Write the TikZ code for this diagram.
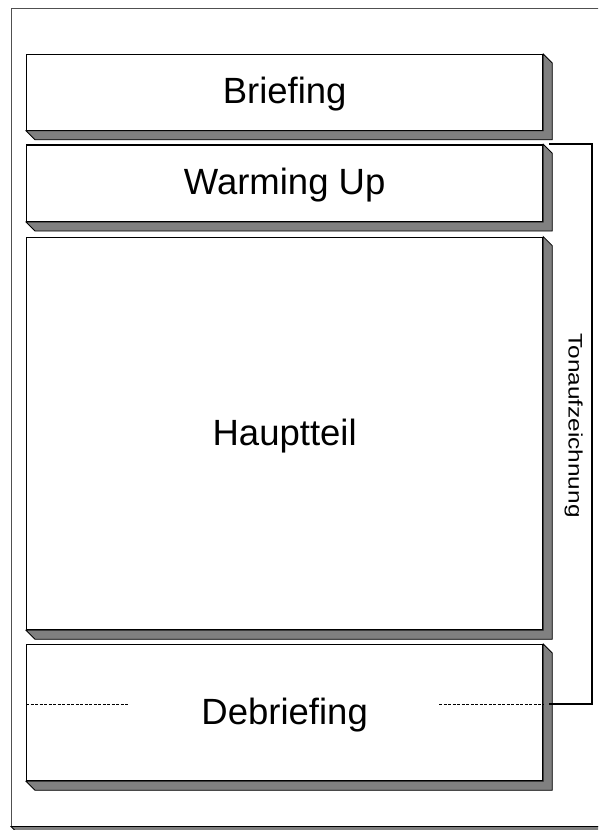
\documentclass[tikz,border=0pt]{standalone}
\usepackage{fontspec}
\setmainfont{Liberation Sans}
\definecolor{bevelgray}{HTML}{808080}
\definecolor{framegray}{HTML}{505050}
\newcommand\bevelbox[1]{%
  \filldraw[bevel] (#1.south west) -- ++(9,9) -- ([shift={(9,9)}]#1.south east)
    -- ([shift={(9,9)}]#1.north east) -- (#1.north east) -- (#1.south east) -- cycle;}
\begin{document}
\begin{tikzpicture}[x=1pt,y=-1pt,
  stage/.style={draw=black,line width=1.3pt,fill=white,rectangle,inner sep=0pt,
    minimum width=516pt,anchor=north west,text height=26pt,text depth=3pt,
    font=\fontsize{36.5}{40}\selectfont},
  bevel/.style={fill=bevelgray,draw=black,line width=0.8pt,line join=miter},
  bracket/.style={draw=black,line width=2pt,line join=miter},
  dashline/.style={draw=black,line width=0.6pt,dash pattern=on 3pt off 1.5pt},
  sidelabel/.style={rotate=-90,anchor=base,inner sep=0pt,font=\fontsize{19.5}{22}\selectfont}]
\useasboundingbox (0,0) rectangle (598,830);
\clip (0,0) rectangle (598,830);
% outer frame
\node[draw=framegray,line width=1pt,fill=white,rectangle,inner sep=0pt,anchor=north west,
  minimum width=609pt,minimum height=817.5pt] (frame) at (11,8) {};
\bevelbox{frame}
% stages
\node[stage,minimum height=75.5pt] (brief) at (26,54) {Briefing};
\bevelbox{brief}
\node[stage,minimum height=76.4pt] (warm) at (26,144.3) {Warming Up};
\bevelbox{warm}
\node[stage,minimum height=392.3pt] (haupt) at (26,236.7) {Hauptteil};
\bevelbox{haupt}
\node[stage,minimum height=136pt] (debrief) at (26,644) {Debriefing};
\bevelbox{debrief}
% dashed split of debriefing
\coordinate (dl) at (128,704);
\coordinate (dr) at (439,704);
\draw[dashline] (debrief.west |- dl) -- (dl);
\draw[dashline] (dr) -- (debrief.east |- dr);
% bracket
\coordinate (bk1) at (592,144.3);
\coordinate (bk2) at (592,704);
\draw[bracket] ([xshift=6]warm.north east) -- (bk1) -- (bk2) -- ([xshift=6]debrief.east |- bk2);
\node[sidelabel] (ton) at (568.5,425.5) {\scalebox{1.25}[1]{Tonaufzeichnung}};
\end{tikzpicture}
\end{document}
